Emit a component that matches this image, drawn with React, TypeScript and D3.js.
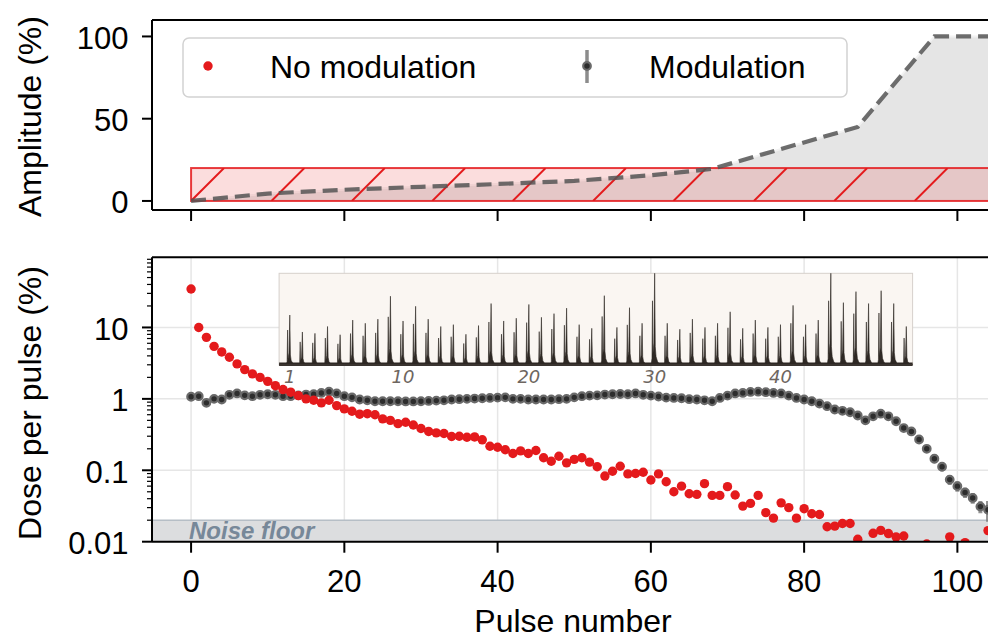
import React from 'react';
import * as d3 from 'd3';

// ---------------- data ----------------
const pulseNumbers = d3.range(0, 105);

const noModulation = [
  34.6, 10.0, 7.27, 5.44, 4.54, 3.82, 3.09, 2.57, 2.24, 2.0,
  1.76, 1.53, 1.35, 1.24, 1.11, 1.0, 0.955, 0.88, 0.955, 0.805,
  0.724, 0.67, 0.61, 0.62, 0.6, 0.525, 0.5, 0.45, 0.47, 0.43,
  0.385, 0.35, 0.334, 0.327, 0.297, 0.3, 0.29, 0.293, 0.267, 0.217,
  0.21, 0.194, 0.172, 0.187, 0.172, 0.189, 0.15, 0.134, 0.157, 0.127,
  0.142, 0.15, 0.13, 0.112, 0.083, 0.097, 0.114, 0.089, 0.09, 0.094,
  0.073, 0.089, 0.069, 0.05, 0.06, 0.047, 0.046, 0.065, 0.0445, 0.0445,
  0.059, 0.045, 0.0315, 0.0344, 0.0445, 0.0255, 0.0214, 0.035, 0.03, 0.0214,
  0.029, 0.0246, 0.024, 0.0162, 0.0165, 0.018, 0.018, 0.0108, 0.008, 0.0131,
  0.0144, 0.013, 0.0117, 0.012, 0.007, 0.008, 0.0093, 0.007, 0.008, 0.0117,
  0.007, 0.0097, 0.008, 0.007, 0.0143,
];

const modulation = [
  1.07, 1.09, 0.88, 1.0, 0.98, 1.14, 1.19, 1.12, 1.09, 1.14,
  1.16, 1.14, 1.09, 1.09, 1.12, 1.15, 1.16, 1.21, 1.26, 1.19,
  1.09, 1.05, 0.98, 0.955, 0.926, 0.926, 0.926, 0.926, 0.92, 0.92,
  0.926, 0.935, 0.945, 0.955, 0.98, 0.99, 1.0, 1.01, 1.02, 1.03,
  1.04, 1.05, 1.0, 1.0, 0.98, 0.98, 0.98, 0.98, 0.99, 1.0,
  1.05, 1.09, 1.11, 1.12, 1.15, 1.16, 1.17, 1.16, 1.19, 1.14,
  1.11, 1.08, 1.04, 1.03, 1.02, 0.99, 0.98, 0.955, 0.926, 1.03,
  1.11, 1.19, 1.21, 1.25, 1.26, 1.24, 1.21, 1.19, 1.11, 1.03,
  0.98, 0.926, 0.86, 0.79, 0.71, 0.68, 0.65, 0.585, 0.5, 0.57,
  0.62, 0.57, 0.486, 0.39, 0.35, 0.27, 0.2, 0.145, 0.112, 0.074,
  0.06, 0.049, 0.041, 0.031, 0.028,
];

const modulationErr = [
  0.03, 0.03, 0.03, 0.03, 0.03, 0.03, 0.03, 0.03, 0.03, 0.03,
  0.03, 0.03, 0.03, 0.03, 0.03, 0.03, 0.03, 0.03, 0.03, 0.03,
  0.03, 0.03, 0.03, 0.03, 0.03, 0.03, 0.03, 0.03, 0.03, 0.03,
  0.03, 0.03, 0.03, 0.03, 0.03, 0.03, 0.03, 0.03, 0.03, 0.03,
  0.03, 0.03, 0.03, 0.03, 0.03, 0.03, 0.03, 0.03, 0.03, 0.03,
  0.03, 0.03, 0.03, 0.03, 0.03, 0.03, 0.03, 0.03, 0.03, 0.03,
  0.03, 0.03, 0.03, 0.03, 0.03, 0.03, 0.03, 0.03, 0.03, 0.03,
  0.03, 0.03, 0.03, 0.03, 0.03, 0.03, 0.03, 0.03, 0.03, 0.03,
  0.03, 0.03, 0.03, 0.03, 0.03, 0.03, 0.03, 0.03, 0.03, 0.03,
  0.03, 0.03, 0.03, 0.03, 0.03, 0.03, 0.025, 0.02, 0.015, 0.012,
  0.01, 0.008, 0.007, 0.006, 0.009,
];

const amplitudePulse = [0, 10, 20, 30, 40, 50, 60, 68, 87, 97, 112];
const amplitudeValue = [0, 4.5, 6.8, 8.6, 10.3, 12.2, 15.6, 19.5, 45, 100, 100];
const noModAmplitude = 20;
const noiseFloor = 0.02;

const insetPeaks = [
  0.545, 0.36, 0.345, 0.42, 0.33, 0.49, 0.455, 0.5, 0.75, 0.48,
  0.64, 0.5, 0.42, 0.44, 0.335, 0.43, 0.67, 0.48, 0.51, 0.66,
  0.52, 0.56, 0.62, 0.44, 0.4, 0.756, 0.41, 0.625, 0.455, 1.0,
  0.455, 0.39, 0.5, 0.41, 0.455, 0.58, 0.4, 0.49, 0.41, 0.44,
  0.65, 0.44, 0.49, 1.0, 0.68, 0.8, 0.67, 0.81, 0.67, 0.42,
];
const insetTicks = [1, 10, 20, 30, 40];

const xTicks = [0, 20, 40, 60, 80, 100];
const ampTicks = [0, 50, 100];
const doseTicks = [0.01, 0.1, 1, 10];
const doseTickLabels = ['0.01', '0.1', '1', '10'];
const doseMinor = [2, 3, 4, 5, 6, 7, 8, 9];

// ---------------- layout ----------------
const F = '"Liberation Sans", Arial, Helvetica, sans-serif';
const RED = '#e41a1c';
const L = 152, R = 998;
const T1 = 20, B1 = 210;
const T2 = 257.3, B2 = 541.7;

const x = d3.scaleLinear().domain([-5.1, 105.3]).range([L, R]);
const yA = d3.scaleLinear().domain([-5.5, 110]).range([B1, T1]);
const yD = d3.scaleLog().domain([0.01, 96]).range([B2, T2]);
const insetX = d3.scaleLinear().domain([0.15, 50.5]).range([279.1, 912.6]);
const insetY = d3.scaleLinear().domain([0, 1]).range([365, 273.3]);

const spikeTemplate: [number, number][] = [
  [-3.6, 0], [-2.7, 0.07], [-2.2, 0.7], [-1.8, 0.12], [-0.8, 0.24], [0, 1],
  [0.6, 0.2], [1.4, 0.09], [2.8, 0.04], [4.5, 0.01], [5.5, 0],
];

function spikePath(k: number, h: number) {
  const cx = insetX(k);
  const base = insetY(0);
  const H = base - insetY(h);
  return 'M' + spikeTemplate.map(([dx, f]) => `${cx + dx},${base - f * H}`).join('L') + 'Z';
}

export default function App() {
  const ampData = amplitudePulse.map((p, i) => [p, amplitudeValue[i]] as [number, number]);
  const area = d3.area<[number, number]>().x(d => x(d[0])).y0(yA(0)).y1(d => yA(d[1]));
  const line = d3.line<[number, number]>().x(d => x(d[0])).y(d => yA(d[1]));

  const rx0 = x(0), rx1 = x(112);
  const ry0 = yA(noModAmplitude), ry1 = yA(0);
  const hatchH = ry1 - ry0;
  const hatchStarts = d3.range(rx0 - 80.4, rx1, 80.4);

  const minorTicks: number[] = [];
  [0.01, 0.1, 1, 10].forEach(d => doseMinor.forEach(m => { const v = d * m; if (v < 96) minorTicks.push(v); }));

  return (
    <svg width={988} height={640} style={{ position: 'fixed', left: 0, top: 0, background: '#fff' }} fontFamily={F}>
      <defs>
        <clipPath id="clipTop"><rect x={L} y={T1} width={R - L} height={B1 - T1} /></clipPath>
        <clipPath id="clipBot"><rect x={L} y={T2} width={R - L} height={B2 - T2} /></clipPath>
        <clipPath id="clipHatch"><rect x={rx0} y={ry0} width={rx1 - rx0} height={hatchH} /></clipPath>
      </defs>
      <rect x={0} y={0} width={988} height={640} fill="#fff" />

      {/* ---------- top panel ---------- */}
      <g clipPath="url(#clipTop)">
        <path d={area(ampData) || ''} fill="#e5e5e5" />
        <path d={line(ampData) || ''} fill="none" stroke="#f2f2f2" strokeWidth={2} />
        <rect x={rx0} y={ry0} width={rx1 - rx0} height={hatchH} fill={RED} fillOpacity={0.15} />
        <g clipPath="url(#clipHatch)">
          {hatchStarts.map((s, i) => (
            <line key={i} x1={s} y1={ry1} x2={s + hatchH} y2={ry0} stroke={RED} strokeWidth={2} />
          ))}
        </g>
        <rect x={rx0} y={ry0} width={rx1 - rx0} height={hatchH} fill="none" stroke={RED} strokeWidth={2} strokeOpacity={0.85} />
        <path d={line(ampData) || ''} fill="none" stroke="#555" strokeOpacity={0.85} strokeWidth={4.2} strokeDasharray="15 7" />
      </g>
      {/* top spines */}
      <line x1={L} y1={T1} x2={L} y2={B1} stroke="#000" strokeWidth={2} />
      <line x1={L} y1={T1} x2={R} y2={T1} stroke="#000" strokeWidth={2} />
      <line x1={L} y1={B1} x2={R} y2={B1} stroke="#000" strokeWidth={2} />
      {xTicks.map(t => (
        <line key={'tx' + t} x1={x(t)} x2={x(t)} y1={B1} y2={B1 + 11} stroke="#000" strokeWidth={2} />
      ))}
      {ampTicks.map(t => (
        <g key={'ta' + t}>
          <line x1={L - 10} x2={L} y1={yA(t)} y2={yA(t)} stroke="#000" strokeWidth={2} />
          <text x={128.5} y={yA(t) + 12.5} fontSize={31} textAnchor="end" fill="#000">{t}</text>
        </g>
      ))}
      <text transform={`translate(41,116.5) rotate(-90)`} fontSize={32} textAnchor="middle" fill="#000">Amplitude (%)</text>

      {/* legend */}
      <rect x={183} y={38} width={664} height={59} rx={6} fill="#fff" fillOpacity={0.8} stroke="#d2d2d2" strokeWidth={1.5} />
      <circle cx={208} cy={66} r={4.7} fill={RED} />
      <text x={270} y={78.3} fontSize={32} fill="#000">No modulation</text>
      <line x1={587} x2={587} y1={50} y2={83} stroke="#808080" strokeOpacity={0.9} strokeWidth={3.5} />
      <circle cx={587} cy={66} r={3.8} fill="#2d2d2d" stroke="#6a6a6a" strokeWidth={2.2} />
      <text x={649} y={78.3} fontSize={32} fill="#000">Modulation</text>

      {/* ---------- bottom panel ---------- */}
      <g clipPath="url(#clipBot)">
        {xTicks.map(t => (
          <line key={'gx' + t} x1={x(t)} x2={x(t)} y1={T2} y2={B2} stroke="#e6e6e6" strokeWidth={1.5} />
        ))}
        {doseTicks.map(t => (
          <line key={'gy' + t} x1={L} x2={R} y1={yD(t)} y2={yD(t)} stroke="#e6e6e6" strokeWidth={1.5} />
        ))}
        <rect x={L} y={yD(noiseFloor)} width={R - L} height={yD(0.01) - yD(noiseFloor)} fill="#dcdddf" />
        <line x1={L} x2={R} y1={yD(noiseFloor)} y2={yD(noiseFloor)} stroke="#b6bec6" strokeWidth={1.5} />
        <text x={189} y={539} fontSize={24} fontWeight="bold" fontStyle="italic" fill="#778899">Noise floor</text>

        {/* inset */}
        <rect x={insetX.range()[0]} y={insetY(1)} width={insetX.range()[1] - insetX.range()[0]} height={insetY(0) - insetY(1)} fill="#faf6f2" stroke="#d6d0cb" strokeWidth={1} />
        <rect x={insetX.range()[0]} y={insetY(0) - 2.5} width={insetX.range()[1] - insetX.range()[0]} height={2.5} fill="#2e2824" />
        {insetPeaks.map((h, i) => (
          <path key={'sp' + i} d={spikePath(i + 1, h)} fill="#2e2824" stroke="#2e2824" strokeWidth={0.6} strokeLinejoin="round" />
        ))}
        <line x1={insetX.range()[0]} x2={insetX.range()[1]} y1={insetY(0)} y2={insetY(0)} stroke="#3a3430" strokeWidth={2} />
        {insetTicks.map(t => (
          <text key={'it' + t} x={insetX(t)} y={383.3} fontSize={18} fontStyle="italic" textAnchor="middle" fill="#6e6660" fontFamily='"DejaVu Sans", sans-serif'>{t}</text>
        ))}

        {/* modulation: error bars + markers */}
        {pulseNumbers.map(p => (
          <line key={'eb' + p} x1={x(p)} x2={x(p)} y1={yD(modulation[p] + modulationErr[p])} y2={yD(Math.max(modulation[p] - modulationErr[p], 0.001))} stroke="#808080" strokeOpacity={0.85} strokeWidth={4} />
        ))}
        {pulseNumbers.map(p => (
          <circle key={'mm' + p} cx={x(p)} cy={yD(modulation[p])} r={3.8} fill="#2d2d2d" stroke="#6a6a6a" strokeWidth={2.2} />
        ))}
        {pulseNumbers.map(p => (
          <circle key={'nm' + p} cx={x(p)} cy={yD(noModulation[p])} r={4.7} fill={RED} />
        ))}
      </g>
      {/* bottom spines */}
      <line x1={L} y1={T2} x2={L} y2={B2} stroke="#000" strokeWidth={2} />
      <line x1={L} y1={T2} x2={R} y2={T2} stroke="#000" strokeWidth={2} />
      <line x1={L} y1={B2} x2={R} y2={B2} stroke="#000" strokeWidth={2} />
      {xTicks.map(t => (
        <g key={'bx' + t}>
          <line x1={x(t)} x2={x(t)} y1={B2} y2={B2 + 11} stroke="#000" strokeWidth={2} />
          <text x={x(t)} y={591.7} fontSize={31} textAnchor="middle" fill="#000">{t}</text>
        </g>
      ))}
      {minorTicks.map((t, i) => (
        <line key={'mn' + i} x1={L - 5} x2={L} y1={yD(t)} y2={yD(t)} stroke="#000" strokeWidth={1.2} />
      ))}
      {doseTicks.map((t, i) => (
        <g key={'by' + t}>
          <line x1={L - 10} x2={L} y1={yD(t)} y2={yD(t)} stroke="#000" strokeWidth={2} />
          <text x={128.5} y={yD(t) + 12.5} fontSize={31} textAnchor="end" fill="#000">{doseTickLabels[i]}</text>
        </g>
      ))}
      <text transform={`translate(41,403) rotate(-90)`} fontSize={32} textAnchor="middle" fill="#000">Dose per pulse (%)</text>
      <text x={(L + R) / 2 - 2} y={631.5} fontSize={32} textAnchor="middle" fill="#000">Pulse number</text>
    </svg>
  );
}
